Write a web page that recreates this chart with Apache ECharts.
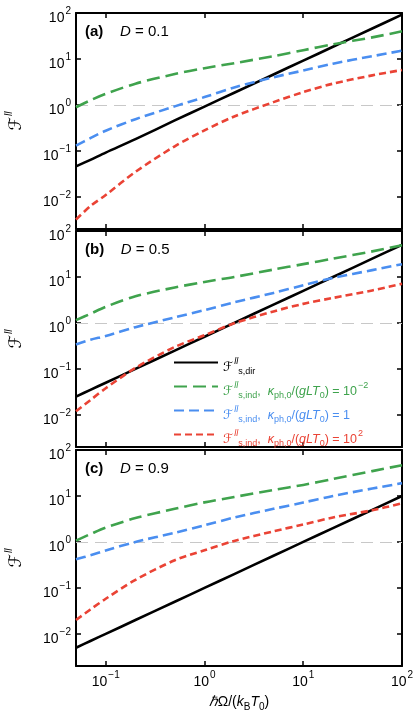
<!DOCTYPE html>
<html>
<head>
<meta charset="utf-8">
<script src="https://cdn.jsdelivr.net/npm/echarts@6/dist/echarts.min.js"></script>
<style>
  html, body { margin: 0; padding: 0; background: #fff; }
  #chart { width: 415px; height: 714px; }
</style>
</head>
<body>
<div id="chart"></div>
<script>
// 横轴 ħΩ/(k_B T_0)，三个面板共用
const omega = [0.05, 0.07, 0.1, 0.2, 0.5, 1, 2, 5, 10, 20, 50, 100]

// (a) D = 0.1
const dirA = [0.046, 0.064, 0.092, 0.18, 0.46, 0.92, 1.84, 4.6, 9.2, 18.4, 46, 92]
const indA_km2 = [0.89, 1.26, 1.74, 2.9, 4.7, 6.3, 8.1, 11.5, 15.5, 20.9, 29.5, 40]
const indA_k0 = [0.13, 0.19, 0.275, 0.49, 0.93, 1.48, 2.4, 4.0, 5.6, 7.9, 11.5, 15.1]
const indA_k2 = [0.0032, 0.0063, 0.011, 0.035, 0.126, 0.28, 0.56, 1.15, 1.9, 2.9, 4.4, 5.75]

// (b) D = 0.5
const dirB = [0.025, 0.035, 0.05, 0.1, 0.25, 0.5, 1.0, 2.5, 5, 10, 25, 50]
const indB_km2 = [1.15, 1.58, 2.24, 3.8, 5.9, 7.8, 10, 14.5, 19, 25, 36, 49]
const indB_k0 = [0.34, 0.43, 0.52, 0.81, 1.32, 1.9, 2.8, 4.5, 6.6, 9.5, 14.1, 19]
const indB_k2 = [0.012, 0.021, 0.038, 0.105, 0.3, 0.54, 0.98, 1.78, 2.6, 3.5, 5.1, 7.1]

// (c) D = 0.9
const dirC = [0.005, 0.007, 0.01, 0.02, 0.05, 0.1, 0.2, 0.5, 1, 2, 5, 10]
const indC_km2 = [1.07, 1.48, 2.05, 3.3, 5.25, 7.25, 9.5, 13.5, 17.4, 23.4, 34.7, 46.8]
const indC_k0 = [0.42, 0.51, 0.65, 1.0, 1.58, 2.3, 3.4, 5.25, 7.2, 10, 14.5, 19]
const indC_k2 = [0.02, 0.034, 0.058, 0.15, 0.4, 0.66, 1.05, 1.7, 2.4, 3.4, 4.9, 6.9]

const panelLabels = ['(a)', '(b)', '(c)']
const dValues = ['0.1', '0.5', '0.9']
const xRange = [0.05, 100]
const yRange = [0.002, 100]

const panels = [
  [dirA, indA_km2, indA_k0, indA_k2],
  [dirB, indB_km2, indB_k0, indB_k2],
  [dirC, indC_km2, indC_k0, indC_k2]
]

const font = 'Liberation Sans, Arial, sans-serif'
const scriptFont = 'DejaVu Sans, sans-serif'
const colors = ['#000000', '#3fa34d', '#4a8ef0', '#ea4335']
const seriesNames = ['dir', 'km2', 'k0', 'k2']
const lineTypes = ['solid', [13, 6], [10, 5], [7, 4]]
const gridTops = [13, 231, 450]

const pair = arr => omega.map((x, i) => [x, arr[i]])

// 10^n 刻度标签
const decadeLabel = v => {
  const lg = Math.log10(v)
  const e = Math.round(lg)
  if (Math.abs(lg - e) > 1e-6) return ''
  return '{b|10}{e|' + String(e).replace('-', '\u2212') + '}'
}
const tickRich = {
  b: {fontSize: 14, fontFamily: font, color: '#000', verticalAlign: 'top', lineHeight: 14, padding: [5, 0, 5, 0]},
  e: {fontSize: 10, fontFamily: font, color: '#000', verticalAlign: 'top', lineHeight: 10, padding: [0, 0, 0, 1]}
}

// 图例富文本，每种颜色一组
const legendRich = {}
colors.forEach((c, k) => {
  legendRich['b' + k] = {fontSize: 12.5, fontFamily: font, color: c, verticalAlign: 'top', lineHeight: 13, padding: [5, 0, 3, 0]}
  legendRich['i' + k] = {fontSize: 12.5, fontFamily: font, fontStyle: 'italic', color: c, verticalAlign: 'top', lineHeight: 13, padding: [5, 0, 3, 0]}
  legendRich['f' + k] = {fontSize: 13, fontFamily: scriptFont, fontStyle: 'italic', color: c, verticalAlign: 'top', lineHeight: 13, padding: [5, 0, 3, 0]}
  legendRich['p' + k] = {fontSize: 9, fontFamily: font, fontStyle: 'italic', color: c, verticalAlign: 'top', lineHeight: 9, padding: [1, 0, 0, 1]}
  legendRich['e' + k] = {fontSize: 9, fontFamily: font, color: c, verticalAlign: 'top', lineHeight: 9, padding: [1, 0, 0, 1]}
  legendRich['s' + k] = {fontSize: 9, fontFamily: font, color: c, verticalAlign: 'top', lineHeight: 9, padding: [11, 0, 0, 0]}
})
const indText = (k, rhs) =>
  `{f${k}|\u2131}{p${k}|ll}{s${k}|s,ind}{b${k}|,  }{i${k}|\u03ba}{s${k}|ph,0}{b${k}|/(}{i${k}|gLT}{s${k}|0}{b${k}|) = ${rhs}`
const legendText = {
  dir: '{f0|\u2131}{p0|ll}{s0|s,dir}',
  km2: indText(1, '10}{e1|\u22122}'),
  k0: indText(2, '1}'),
  k2: indText(3, '10}{e3|2}')
}

const grid = []
const xAxis = []
const yAxis = []
const series = []
const title = []

const axisLine = {show: true, onZero: false, lineStyle: {color: '#000', width: 2}}
const axisTick = {show: true, inside: true, length: 5, lineStyle: {color: '#000', width: 1.5}}

panels.forEach((lines, p) => {
  grid.push({left: 76, top: gridTops[p], width: 326, height: 216, containLabel: false, outerBoundsMode: 'none'})
  const last = p === panels.length - 1
  xAxis.push({
    gridIndex: p, type: 'log', logBase: 10, min: xRange[0], max: xRange[1], position: 'bottom',
    axisLine, axisTick, splitLine: {show: false}, minorTick: {show: false},
    axisLabel: {show: last, formatter: decadeLabel, rich: tickRich, margin: 4, color: '#000'},
    name: last ? '{i|\u210f}{b|\u03a9/(}{i|k}{s|B}{i|T}{s|0}{b|)}' : '',
    nameLocation: 'middle', nameGap: 23,
    nameTextStyle: {
      rich: {
        b: {fontSize: 14, fontFamily: font, color: '#000', verticalAlign: 'top', lineHeight: 14, padding: [0, 0, 4, 0]},
        i: {fontSize: 14, fontFamily: font, fontStyle: 'italic', color: '#000', verticalAlign: 'top', lineHeight: 14, padding: [0, 0, 4, 0]},
        s: {fontSize: 10, fontFamily: font, color: '#000', verticalAlign: 'top', lineHeight: 10, padding: [7, 0, 0, 0]}
      }
    }
  })
  xAxis.push({
    gridIndex: p, type: 'log', logBase: 10, min: xRange[0], max: xRange[1], position: 'top',
    axisLine, axisTick, splitLine: {show: false}, axisLabel: {show: false}
  })
  yAxis.push({
    gridIndex: p, type: 'log', logBase: 10, min: yRange[0], max: yRange[1], position: 'left',
    axisLine, axisTick, splitLine: {show: false},
    axisLabel: {formatter: decadeLabel, rich: tickRich, margin: 5, color: '#000'},
    name: '{f|\u2131}{p|ll}', nameLocation: 'middle', nameRotate: 90, nameGap: 55,
    nameTextStyle: {
      rich: {
        f: {fontSize: 17, fontFamily: scriptFont, fontStyle: 'italic', color: '#000', verticalAlign: 'top', lineHeight: 17, padding: [4, 0, 0, 0]},
        p: {fontSize: 10, fontFamily: font, fontStyle: 'italic', color: '#000', verticalAlign: 'top', lineHeight: 10, padding: [0, 0, 0, 1]}
      }
    }
  })
  yAxis.push({
    gridIndex: p, type: 'log', logBase: 10, min: yRange[0], max: yRange[1], position: 'right',
    axisLine, axisTick, splitLine: {show: false}, axisLabel: {show: false}
  })

  lines.forEach((arr, k) => {
    const s = {
      name: seriesNames[k],
      type: 'line',
      xAxisIndex: 2 * p,
      yAxisIndex: 2 * p,
      data: pair(arr),
      symbol: 'none',
      smooth: 0.3,
      lineStyle: {color: colors[k], width: 2.6, type: lineTypes[k], cap: 'butt', join: 'round'},
      itemStyle: {color: colors[k]},
      z: 3 + k
    }
    if (k === 0) {
      s.markLine = {
        silent: true, symbol: 'none', label: {show: false}, z: 1,
        lineStyle: {color: '#c8c8c8', type: [12, 7], width: 1.2},
        data: [{yAxis: 1}]
      }
    }
    series.push(s)
  })

  title.push({
    text: `{p|${panelLabels[p]}}{t|    }{i|D}{t| = ${dValues[p]}}`,
    left: 85, top: gridTops[p] + 11, padding: 0,
    textStyle: {
      fontWeight: 'normal',
      rich: {
        p: {fontSize: 15, fontFamily: font, fontWeight: 'bold', color: '#000'},
        i: {fontSize: 15, fontFamily: font, fontStyle: 'italic', fontWeight: 'normal', color: '#000'},
        t: {fontSize: 15, fontFamily: font, fontWeight: 'normal', color: '#000'}
      }
    }
  })
})

const chart = echarts.init(document.getElementById('chart'), null, {renderer: 'canvas'})
chart.setOption({
  animation: false,
  backgroundColor: '#fff',
  textStyle: {fontFamily: font},
  title,
  grid,
  xAxis,
  yAxis,
  series,
  legend: {
    orient: 'vertical',
    left: 168, top: 351,
    itemWidth: 44, itemHeight: 12, itemGap: 3,
    selectedMode: false,
    itemStyle: {opacity: 0},
    formatter: name => legendText[name],
    textStyle: {rich: legendRich},
    data: seriesNames.map((n, k) => ({name: n, textStyle: {color: colors[k]}}))
  }
})
</script>
</body>
</html>
